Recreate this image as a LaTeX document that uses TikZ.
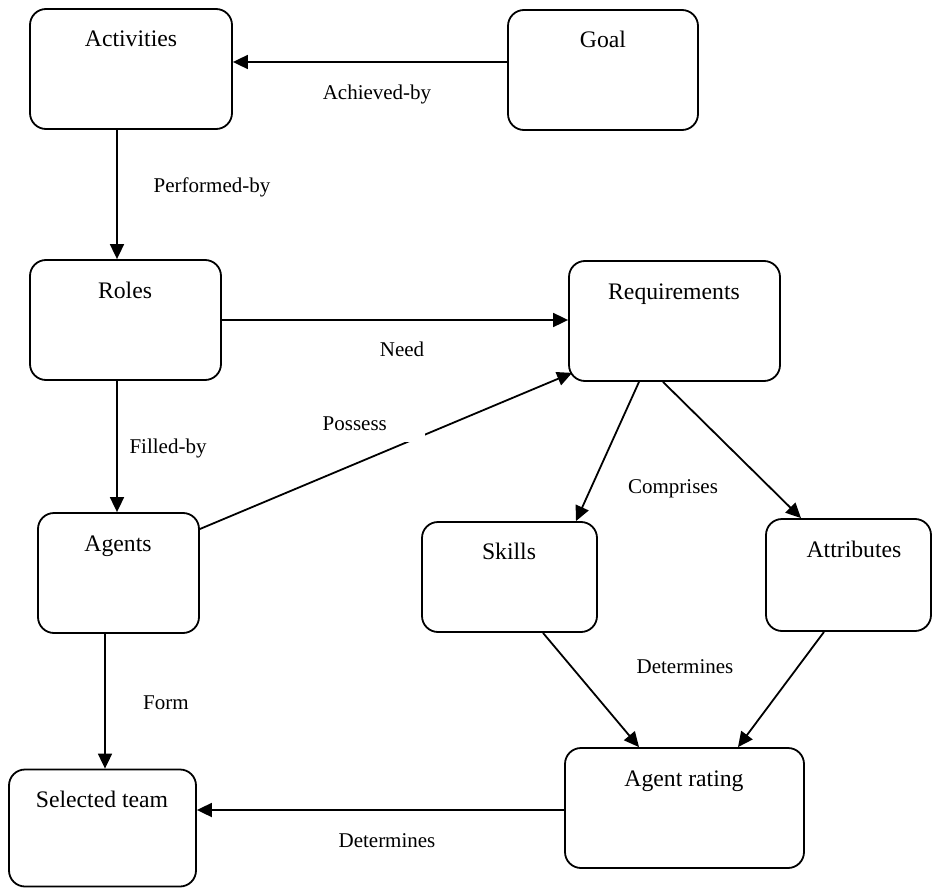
\documentclass[tikz,border=0pt]{standalone}
\usepackage{fontspec}
\setmainfont{Liberation Serif}
\usetikzlibrary{arrows.meta}
\begin{document}
\begin{tikzpicture}[x=1pt,y=-1pt,
  box/.style={draw=black, line width=1.8pt, rounded corners=16pt, inner sep=0pt},
  ttl/.style={anchor=base, inner sep=0pt, font=\fontsize{23.7}{28}\selectfont},
  lab/.style={anchor=base, inner sep=0pt, font=\fontsize{21}{25}\selectfont},
  arr/.style={line width=1.8pt, -{Triangle[length=15pt,width=14pt]}},
  ln/.style={line width=1.8pt}]
\useasboundingbox (0,0) rectangle (932,888);
% boxes
\node[box, minimum width=202pt, minimum height=120pt] (act)    at (131,69)    {};
\node[box, minimum width=190pt, minimum height=120pt] (goal)   at (603,70)    {};
\node[box, minimum width=191pt, minimum height=120pt] (roles)  at (125.5,320) {};
\node[box, minimum width=211pt, minimum height=120pt] (req)    at (674.5,321) {};
\node[box, minimum width=161pt, minimum height=120pt] (agents) at (118.5,573) {};
\node[box, minimum width=175pt, minimum height=110pt] (skills) at (509.5,577) {};
\node[box, minimum width=165pt, minimum height=112pt] (attr)   at (848.5,575) {};
\node[box, minimum width=239pt, minimum height=120pt] (rating) at (684.5,808) {};
\node[box, minimum width=187pt, minimum height=117pt] (team)   at (102.5,828) {};
% box titles
\node[ttl] (tAct)    at (131,47)  {Activities};
\node[ttl] (tGoal)   at (603,48)  {Goal};
\node[ttl] (tRoles)  at (125,298) {Roles};
\node[ttl] (tReq)    at (674,299) {Requirements};
\node[ttl] (tAgents) at (118,551) {Agents};
\node[ttl] (tSkills) at (509,559) {Skills};
\node[ttl] (tAttr)   at (854,557) {Attributes};
\node[ttl] (tRating) at (684,786) {Agent rating};
\node[ttl] (tTeam)   at (102,807) {Selected team};
% connectors
\draw[arr] ([yshift=8pt]goal.west) coordinate (g1) -- (g1 -| act.east);
\draw[arr] ([xshift=-14pt]act.south) coordinate (a1) -- (a1 |- roles.north);
\draw[arr] (roles.east) coordinate (r1) -- (r1 -| req.west);
\draw[arr] ([xshift=-8.5pt]roles.south) coordinate (r2) -- (r2 |- agents.north);
\draw[arr] ([yshift=44pt]agents.east) -- ([xshift=4pt,yshift=9pt]req.south west);
\draw[arr] ([xshift=-35.5pt]req.south) -- ([xshift=66.5pt]skills.north);
\draw[arr] ([xshift=-11.5pt]req.south) -- ([xshift=-47.5pt]attr.north);
\draw[arr] ([xshift=-13.5pt]agents.south) coordinate (ag1) -- (ag1 |- team.north);
\draw[arr] ([xshift=33.5pt]skills.south) -- ([xshift=-45.5pt]rating.north);
\draw[arr] ([xshift=-24.5pt]attr.south) -- ([xshift=53.5pt]rating.north);
\draw[arr] ([yshift=-2pt]rating.west) coordinate (rt1) -- (rt1 -| team.east);
% labels
\node[lab] (lAch)  at (377,100) {Achieved-by};
\node[lab] (lPerf) at (212,193) {Performed-by};
\node[lab] (lNeed) at (402,356) {Need};
\node[lab] (lFill) at (168,453) {Filled-by};
\node[lab, fill=white, anchor=south east, minimum width=140pt, inner ysep=11pt, inner xsep=0pt] (lPos) at (425,442) {Possess};
\node[lab] (lComp) at (673,493) {Comprises};
\node[lab] (lDet1) at (685,673) {Determines};
\node[lab] (lForm) at (166,709) {Form};
\node[lab] (lDet2) at (387,847) {Determines};
\end{tikzpicture}
\end{document}
